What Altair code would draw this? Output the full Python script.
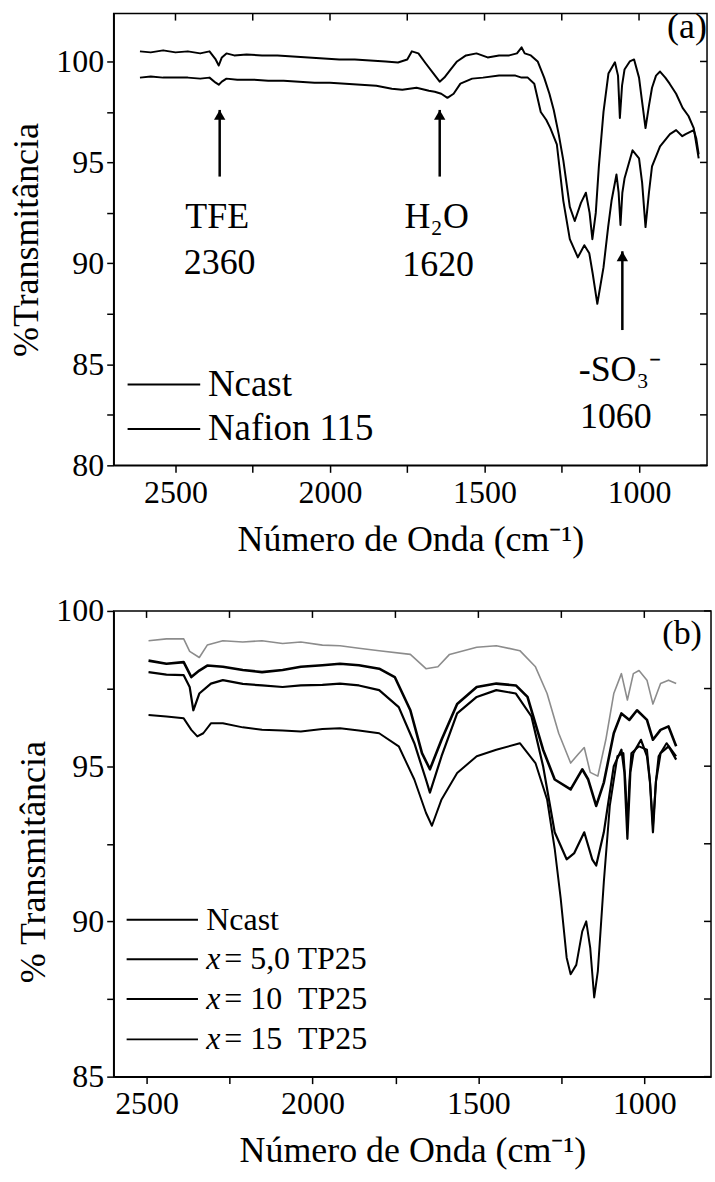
import altair as alt
import pandas as pd

FONT = "Liberation Serif"

# ---------------- Panel (a) data ----------------
a_ncast_wn = [2615, 2580, 2540, 2500, 2460, 2420, 2390, 2370, 2360, 2350, 2335, 2310, 2270, 2220, 2170, 2120,
              2070, 2020, 1970, 1920, 1870, 1820, 1780, 1750, 1735, 1714, 1690, 1660, 1645, 1630, 1610, 1589,
              1560, 1526, 1490, 1453, 1420, 1395, 1380, 1370, 1350, 1328, 1307, 1290, 1276, 1260, 1245, 1224,
              1208, 1188, 1172, 1160, 1151, 1140, 1130, 1115, 1099, 1078, 1068, 1062, 1055, 1047, 1030, 1016,
              1000, 990, 979, 968, 958, 945, 932, 915, 901, 880, 859, 840, 823, 807]
a_ncast_t = [100.5, 100.45, 100.55, 100.45, 100.5, 100.4, 100.5, 100.1, 99.8, 100.2, 100.4, 100.3, 100.35, 100.3,
             100.3, 100.25, 100.2, 100.15, 100.1, 100.1, 100.05, 100.0, 99.95, 100.1, 100.5, 100.4, 99.9, 99.3,
             99.0, 99.2, 99.6, 100.0, 100.3, 100.4, 100.2, 100.3, 100.3, 100.4, 100.7, 100.4, 100.3, 100.0, 99.2,
             98.4, 97.6, 96.4, 95.1, 92.8, 92.1, 93.0, 93.5, 92.5, 91.2, 92.5, 94.8, 97.5, 99.4, 99.96, 99.3,
             97.2, 98.8, 99.6, 100.0, 100.1, 99.2, 98.0, 96.7, 97.8, 98.7, 99.3, 99.5, 99.2, 98.9, 98.4, 97.7,
             97.3, 96.7, 95.2]

a_naf_wn = [2615, 2580, 2540, 2500, 2460, 2420, 2390, 2370, 2360, 2350, 2335, 2300, 2250, 2200, 2150, 2100,
            2050, 2000, 1950, 1900, 1850, 1800, 1766, 1720, 1680, 1661, 1640, 1620, 1600, 1578, 1540, 1505,
            1453, 1400, 1380, 1360, 1339, 1318, 1300, 1287, 1266, 1245, 1224, 1198, 1177, 1161, 1150, 1135,
            1115, 1100, 1089, 1073, 1066, 1060, 1054, 1047, 1021, 1000, 990, 979, 968, 958, 932, 900, 880,
            860, 849, 823, 815, 807]
a_naf_t = [99.2, 99.25, 99.2, 99.2, 99.2, 99.15, 99.2, 98.95, 98.85, 99.0, 99.15, 99.1, 99.1, 99.05, 99.05, 99.0,
           98.95, 98.95, 98.9, 98.85, 98.8, 98.65, 98.6, 98.7, 98.55, 98.5, 98.4, 98.2, 98.4, 98.9, 99.15, 99.2,
           99.3, 99.3, 99.2, 99.2, 98.9, 97.5, 97.1, 96.7, 95.9, 93.1, 91.2, 90.3, 90.9, 90.5, 89.5, 88.0,
           89.8, 91.8, 93.1, 94.4, 93.5, 91.9, 93.5, 94.2, 95.6, 95.2, 94.0, 91.8, 93.5, 94.8, 95.8, 96.4, 96.6,
           96.3, 96.4, 96.6, 96.2, 95.4]

a_arrow_wn = [2357, 1645, 1054]
a_arrow_head = [97.6, 97.6, 90.6]
a_arrow_tail = [94.3, 94.3, 86.7]

a_label_text = ["TFE", "2360", "H\u2082O", "1620", "-SO\u2083\u207b", "1060", "(a)"]
a_label_wn = [2365, 2357, 1655, 1650, 1062, 1075, 845]
a_label_t = [92.3, 90.0, 92.3, 89.9, 84.7, 82.4, 101.7]

a_legend_names = ["Ncast", "Nafion 115"]
a_legend_t = [84.0, 81.8]
a_legend_wn_start = 2655
a_legend_wn_end = 2420
a_legend_text_wn = 2395

# ---------------- Panel (b) data ----------------
b_top_wn = [2494, 2440, 2388, 2370, 2341, 2317, 2270, 2210, 2152, 2090, 2035, 1970, 1917, 1860, 1799, 1705,
            1658, 1622, 1587, 1505, 1446, 1375, 1328, 1293, 1258, 1222, 1198, 1181, 1163, 1140, 1116, 1092,
            1069, 1051, 1033, 1016, 992, 974, 951, 927, 904]
b_top_t = [99.04, 99.1, 99.1, 98.7, 98.5, 98.9, 99.04, 99.0, 99.04, 98.95, 99.0, 98.9, 98.88, 98.8, 98.72, 98.6,
           98.14, 98.2, 98.6, 98.83, 98.88, 98.72, 98.2, 97.34, 96.06, 95.1, 95.4, 95.6, 94.8, 94.68, 95.85,
           97.34, 97.98, 97.13, 97.98, 98.08, 97.77, 97.0, 97.66, 97.77, 97.66]

b_x5_wn = [2494, 2440, 2388, 2365, 2341, 2317, 2270, 2210, 2152, 2090, 2035, 1970, 1917, 1860, 1799, 1752,
           1705, 1670, 1646, 1611, 1564, 1505, 1446, 1387, 1352, 1305, 1270, 1222, 1187, 1169, 1145, 1122,
           1092, 1069, 1045, 1022, 992, 974, 951, 927, 904]
b_x5_t = [98.4, 98.3, 98.35, 97.87, 98.08, 98.24, 98.2, 98.1, 98.03, 98.1, 98.2, 98.25, 98.3, 98.25, 98.14,
          97.87, 96.8, 95.42, 94.9, 95.85, 97.0, 97.55, 97.66, 97.6, 97.23, 95.53, 94.57, 94.25, 94.9, 94.57,
          93.72, 94.47, 96.06, 96.7, 96.49, 96.8, 96.49, 95.85, 96.17, 96.28, 95.64]

b_x10_wn = [2494, 2440, 2388, 2370, 2359, 2341, 2306, 2270, 2210, 2152, 2090, 2035, 1970, 1917, 1860, 1799,
            1740, 1693, 1658, 1646, 1611, 1564, 1505, 1446, 1387, 1340, 1305, 1270, 1234, 1211, 1181, 1157,
            1145, 1122, 1092, 1069, 1060, 1051, 1042, 1033, 1010, 992, 983, 974, 965, 951, 927, 904]
b_x10_t = [98.03, 97.95, 97.93, 97.55, 96.8, 97.34, 97.66, 97.77, 97.65, 97.6, 97.55, 97.6, 97.62, 97.66, 97.6,
           97.45, 96.9, 95.74, 94.57, 94.15, 95.32, 96.7, 97.23, 97.45, 97.34, 96.6, 95.0, 92.87, 92.0, 92.2,
           92.87, 92.0, 91.8, 92.87, 95.0, 95.53, 94.8, 92.66, 94.8, 95.42, 95.85, 95.32, 94.5, 92.87, 94.5,
           95.42, 95.64, 95.21]

b_x15_wn = [2494, 2440, 2388, 2365, 2347, 2329, 2306, 2270, 2210, 2152, 2090, 2035, 1970, 1917, 1860, 1799,
            1740, 1693, 1658, 1640, 1611, 1564, 1505, 1446, 1375, 1328, 1293, 1270, 1252, 1234, 1222, 1205,
            1187, 1175, 1163, 1151, 1140, 1122, 1104, 1081, 1063, 1057, 1051, 1045, 1039, 1016, 992, 983, 974,
            965, 957, 933, 904]
b_x15_t = [96.65, 96.6, 96.54, 96.17, 95.96, 96.06, 96.38, 96.38, 96.25, 96.17, 96.15, 96.12, 96.2, 96.22,
           96.15, 96.06, 95.64, 94.57, 93.5, 93.08, 93.93, 94.78, 95.32, 95.53, 95.74, 95.1, 93.93, 92.34,
           90.74, 88.83, 88.3, 88.6, 89.68, 90.0, 89.15, 87.55, 88.4, 91.27, 93.72, 95.32, 95.42, 94.5, 93.08,
           94.5, 95.42, 95.64, 95.53, 94.5, 93.08, 94.5, 95.32, 95.74, 95.32]

b_legend_names_italic = ["", "x", "x", "x"]
b_legend_names_rest = ["Ncast", "= 5,0 TP25", "= 10\u00a0\u00a0TP25", "= 15\u00a0\u00a0TP25"]
b_legend_t = [90.05, 88.78, 87.5, 86.2]
b_legend_wn_start = 2560
b_legend_wn_end = 2345
b_legend_text_wn = 2320

b_label_text = ["(b)"]
b_label_wn = [886]
b_label_t = [99.25]

# ---------------- axis tick values ----------------
x_tick_vals = [1000, 1250, 1500, 1750, 2000, 2250, 2500]
a_y_ticks = [80, 82.5, 85, 87.5, 90, 92.5, 95, 97.5, 100]
b_y_ticks = [85, 87.5, 90, 92.5, 95, 97.5, 100]


def curve_df(wn, t, name):
    return pd.DataFrame({"wn": wn, "T": t, "serie": name, "i": list(range(len(wn)))})


A_W, A_H = 595, 453
B_W, B_H = 599, 467


def axis_common(label_fs, title_fs):
    return dict(labelFont=FONT, titleFont=FONT, labelFontSize=label_fs, titleFontSize=title_fs,
                titleFontWeight="normal", labelColor="black", titleColor="black",
                domainColor="black", tickColor="black", domainWidth=1.5, tickWidth=1.5,
                grid=False, tickSize=7)


def panel(curves, colors, widths, x_dom, y_dom, y_ticks, y_title, W, H, y_title_pad,
          y_title_y=None, arrows=None, labels=None, legend=None):
    xs = alt.Scale(domain=x_dom, reverse=True, nice=False, zero=False)
    ys = alt.Scale(domain=y_dom, nice=False, zero=False)
    x_axis = alt.Axis(values=x_tick_vals, title="Número de Onda (cm\u207b\u00b9)",
                      labelExpr="datum.value % 500 == 0 ? datum.label : ''",
                      format="d", titlePadding=14, labelPadding=5, **axis_common(32, 36))
    y_kw = dict(values=y_ticks, title=y_title,
                labelExpr="datum.value % 5 == 0 ? datum.label : ''",
                format="d", titlePadding=y_title_pad, labelPadding=3, **axis_common(32, 36))
    if y_title_y is not None:
        y_kw["titleY"] = y_title_y
    y_axis = alt.Axis(**y_kw)
    layers = []
    for (df, col, w) in zip(curves, colors, widths):
        layers.append(
            alt.Chart(df).mark_line(color=col, strokeWidth=w, strokeJoin="round").encode(
                x=alt.X("wn:Q", scale=xs, axis=x_axis),
                y=alt.Y("T:Q", scale=ys, axis=y_axis),
                order="i:Q",
            )
        )
    # inward ticks on top and right
    top_df = pd.DataFrame({"v": x_tick_vals})
    layers.append(alt.Chart(top_df).mark_rule(color="black", strokeWidth=1.5).encode(
        x=alt.X("v:Q", scale=xs), y=alt.value(0), y2=alt.value(7)))
    right_df = pd.DataFrame({"v": y_ticks})
    layers.append(alt.Chart(right_df).mark_rule(color="black", strokeWidth=1.5).encode(
        y=alt.Y("v:Q", scale=ys), x=alt.value(W), x2=alt.value(W - 7)))
    if arrows is not None:
        adf = pd.DataFrame({"wn": arrows[0], "h": arrows[1], "t": arrows[2]})
        layers.append(alt.Chart(adf).mark_rule(color="black", strokeWidth=2.5).encode(
            x=alt.X("wn:Q", scale=xs), y=alt.Y("h:Q", scale=ys), y2="t:Q"))
        layers.append(alt.Chart(adf).mark_point(shape="triangle-up", filled=True, color="black",
                                                size=130, opacity=1, yOffset=5).encode(
            x=alt.X("wn:Q", scale=xs), y=alt.Y("h:Q", scale=ys)))
    if labels is not None:
        ldf = pd.DataFrame({"txt": labels[0], "wn": labels[1], "T": labels[2]})
        layers.append(alt.Chart(ldf).mark_text(font=FONT, fontSize=labels[3], color="black",
                                               align="center", baseline="middle").encode(
            x=alt.X("wn:Q", scale=xs), y=alt.Y("T:Q", scale=ys), text="txt:N"))
    if legend is not None:
        names_it, names_rest, lt, w0, w1, wt, fs, dxr = legend
        gdf = pd.DataFrame({"it": names_it, "rest": names_rest, "T": lt,
                            "w0": [w0] * len(lt), "w1": [w1] * len(lt), "wt": [wt] * len(lt),
                            "has_it": [1 if s else 0 for s in names_it]})
        layers.append(alt.Chart(gdf).mark_rule(color="black", strokeWidth=2).encode(
            x=alt.X("w0:Q", scale=xs), x2="w1:Q", y=alt.Y("T:Q", scale=ys)))
        layers.append(alt.Chart(gdf).mark_text(font=FONT, fontSize=fs, fontStyle="italic",
                                               color="black", align="left",
                                               baseline="middle").encode(
            x=alt.X("wt:Q", scale=xs), y=alt.Y("T:Q", scale=ys), text="it:N"))
        layers.append(alt.Chart(gdf[gdf.has_it == 1]).mark_text(
            font=FONT, fontSize=fs, color="black", align="left", baseline="middle", dx=dxr).encode(
            x=alt.X("wt:Q", scale=xs), y=alt.Y("T:Q", scale=ys), text="rest:N"))
        layers.append(alt.Chart(gdf[gdf.has_it == 0]).mark_text(
            font=FONT, fontSize=fs, color="black", align="left", baseline="middle").encode(
            x=alt.X("wt:Q", scale=xs), y=alt.Y("T:Q", scale=ys), text="rest:N"))
    return alt.layer(*layers).properties(width=W, height=H)


pa = panel(
    [curve_df(a_ncast_wn, a_ncast_t, "Ncast"), curve_df(a_naf_wn, a_naf_t, "Nafion 115")],
    ["black", "black"], [2, 2],
    [780, 2700], [80, 102.37], a_y_ticks, "%Transmitância", A_W, A_H, 10,
    arrows=(a_arrow_wn, a_arrow_head, a_arrow_tail),
    labels=(a_label_text, a_label_wn, a_label_t, 36),
    legend=(["", ""], a_legend_names, a_legend_t, a_legend_wn_start, a_legend_wn_end,
            a_legend_text_wn, 37, 0),
)

pb = panel(
    [curve_df(b_top_wn, b_top_t, "Ncast"), curve_df(b_x5_wn, b_x5_t, "x5"),
     curve_df(b_x10_wn, b_x10_t, "x10"), curve_df(b_x15_wn, b_x15_t, "x15")],
    ["#8c8c8c", "black", "black", "black"], [1.6, 2.6, 2.2, 2.0],
    [799, 2599], [85, 100], b_y_ticks, "% Transmitância", B_W, B_H, 3,
    y_title_y=B_H / 2 + 18,
    labels=(b_label_text, b_label_wn, b_label_t, 34),
    legend=(b_legend_names_italic, b_legend_names_rest, b_legend_t, b_legend_wn_start,
            b_legend_wn_end, b_legend_text_wn, 32, 18),
)

chart = alt.vconcat(pa, pb, spacing=36).properties(
    padding={"left": 8, "top": 6, "right": 2, "bottom": 5},
    background="white",
).configure_view(stroke="black", strokeWidth=1.5)

chart.save("out.html", embed_options={"renderer": "svg", "actions": False})
